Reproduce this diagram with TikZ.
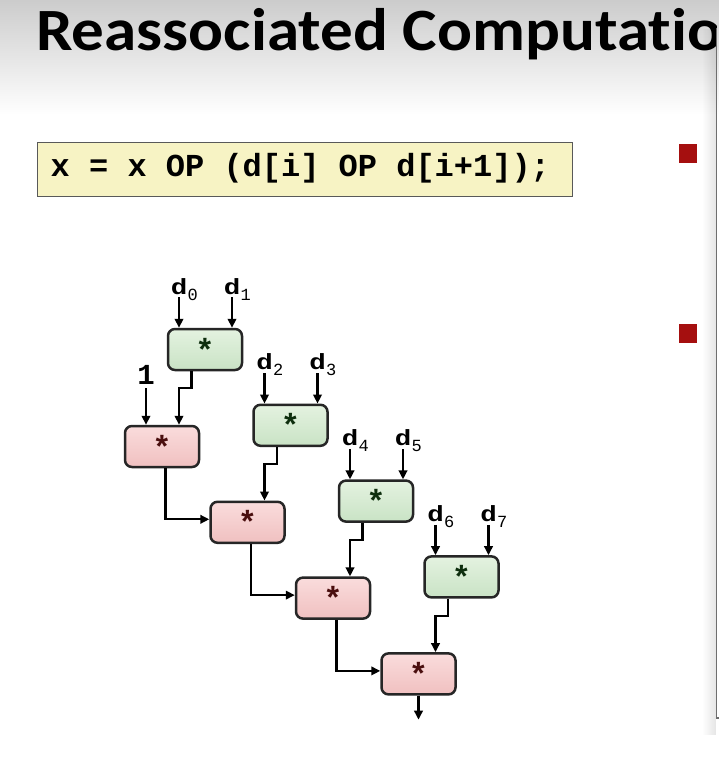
\documentclass[tikz,border=0pt]{standalone}
\usepackage{fontspec}
\usepackage{graphicx}
\setmainfont{Liberation Sans}
\newfontfamily\titlefont{Carlito}[Ligatures=NoCommon]
\newfontfamily\monofont{Liberation Mono}
\usetikzlibrary{arrows.meta,calc,fadings}

\definecolor{gtop}{HTML}{E4F2E0}
\definecolor{gbot}{HTML}{C9E3C5}
\definecolor{rtop}{HTML}{FADCDC}
\definecolor{rbot}{HTML}{F0C0C0}
\definecolor{gstar}{HTML}{0E2E0E}
\definecolor{rstar}{HTML}{4A0E0E}
\definecolor{codefill}{HTML}{F7F3C4}
\definecolor{bulletred}{HTML}{A50F0F}
\definecolor{panelgray}{HTML}{6E6E6E}

% d with a lowered index digit; only the d counts for the node size
\newcommand\dsub[1]{\scalebox{1.25}[1]{\bfseries d}\rlap{\smash{\raisebox{-6bp}{\fontsize{17bp}{17bp}\selectfont\mdseries\hspace{0.3bp}#1}}}}
% one full character cell of blank in the code line
\newcommand\cgap{\hspace{0.6em}}

\tikzset{
  opbox/.style={draw=black!85, line width=2.5bp, rounded corners=7bp,
    minimum width=74bp, minimum height=41bp, inner sep=0,
    font=\monofont\bfseries\fontsize{32bp}{32bp}\selectfont},
  gbox/.style={opbox, top color=gtop, bottom color=gbot, text=gstar},
  rbox/.style={opbox, top color=rtop, bottom color=rbot, text=rstar},
  dlab/.style={inner sep=0, anchor=base, font=\monofont\fontsize{22bp}{22bp}\selectfont},
  arr/.style={line width=2.2bp, -{Triangle[length=9bp,width=8.5bp]}},
  codebox/.style={draw=black!65, line width=1.4bp, fill=codefill, anchor=north west,
    text width=509bp, inner xsep=13bp, minimum height=54bp, align=left,
    text height=20bp, text depth=6bp,
    font=\monofont\bfseries\fontsize{32bp}{32bp}\selectfont},
}

\begin{document}
\begin{tikzpicture}[x=1bp, y=-1bp]
\useasboundingbox (0,0) rectangle (719,760);

% page background with the grey title band
\fill[white] (0,0) rectangle (719,760);
\shade[top color=black!20, bottom color=white] (0,0) rectangle (719,115);

% title, cut off by the panel edge
\begin{scope}
  \clip (0,0) rectangle (716,760);
  \node[anchor=base west, inner sep=0,
        font=\titlefont\bfseries\fontsize{60bp}{60bp}\selectfont] (title)
        at (36,51) {\scalebox{1.085}[1]{Reassociated Computation}};
\end{scope}

% right panel edge with its soft shadow
\fill[black, opacity=0.10, path fading=west] (702,28) rectangle (716,735);
\draw[panelgray, line width=1.3bp] (716.5,28) -- (716.5,718) -- (719,718);

% bullets
\fill[bulletred] (679,144) rectangle (697,163);
\fill[bulletred] (679,324) rectangle (697,343);

% code line
\node[codebox] (code) at (37,142)
  {x\cgap=\cgap x\cgap OP\cgap(d[i]\cgap OP\cgap d[i+1]);};

% operator boxes
\foreach \i in {0,...,3} {
  \pgfmathsetmacro\gx{205+85.5*\i}
  \pgfmathsetmacro\gy{349.5+75.8*\i}
  \pgfmathsetmacro\rx{162+85.5*\i}
  \pgfmathsetmacro\ry{446.5+75.8*\i}
  \pgfmathtruncatemacro\a{2*\i}
  \pgfmathtruncatemacro\b{2*\i+1}
  \node[gbox] (g\i) at (\gx,\gy) {\raisebox{-2bp}{*}};
  \node[rbox] (r\i) at (\rx,\ry) {\raisebox{-2bp}{*}};
  \node[dlab] (d\a) at (\gx-26,\gy-55.5) {\dsub{\a}};
  \node[dlab] (d\b) at (\gx+27,\gy-55.5) {\dsub{\b}};
  \draw[arr] ([yshift=-3bp]d\a.south) -- (d\a.south |- g\i.north);
  \draw[arr] ([yshift=-3bp]d\b.south) -- (d\b.south |- g\i.north);
  \draw[arr] ([xshift=-13.5bp]g\i.south) -- ++(0,17) -| ([xshift=17bp]r\i.north);
}

% initial value
\node[dlab, font=\monofont\bfseries\fontsize{29bp}{29bp}\selectfont] (one) at (146,384) {1};
\draw[arr] ([yshift=-4bp]one.south) -- (one.south |- r0.north);

% accumulation chain
\foreach \i [evaluate=\i as \j using int(\i+1)] in {0,1,2} {
  \draw[arr] ([xshift=3.5bp]r\i.south) |- ([yshift=3bp]r\j.west);
}

% result
\coordinate (out) at ($(r3.south)+(0,24)$);
\draw[arr] (r3.south) -- (out);
\end{tikzpicture}
\end{document}
